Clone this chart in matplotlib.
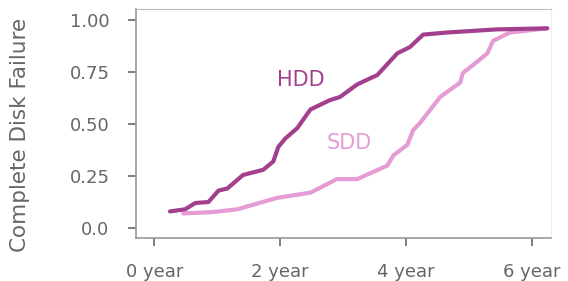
import matplotlib.pyplot as plt

# valores
hdd_t = [0.25, 0.49, 0.65, 0.86, 1.02, 1.16, 1.41, 1.73, 1.89, 1.97, 2.08, 2.27, 2.48,
         2.79, 2.95, 3.22, 3.43, 3.54, 3.86, 4.06, 4.27, 4.65, 5.44, 6.24]
hdd_v = [0.08, 0.09, 0.12, 0.125, 0.18, 0.19, 0.255, 0.28, 0.32, 0.39, 0.43, 0.48, 0.57,
         0.615, 0.63, 0.69, 0.72, 0.735, 0.84, 0.87, 0.93, 0.94, 0.955, 0.96]

sdd_t = [0.46, 0.94, 1.32, 1.95, 2.48, 2.9, 3.22, 3.7, 3.8, 4.02, 4.11, 4.22, 4.54,
         4.86, 4.9, 5.17, 5.29, 5.38, 5.65, 6.24]
sdd_v = [0.07, 0.077, 0.09, 0.145, 0.17, 0.235, 0.235, 0.30, 0.35, 0.40, 0.47, 0.505, 0.63,
         0.70, 0.745, 0.81, 0.84, 0.90, 0.94, 0.96]

xticks = [0, 2, 4, 6]
xlabels = ['0 year', '2 year', '4 year', '6 year']
yticks = [0.0, 0.25, 0.5, 0.75, 1.0]
ylabels = ['0.0', '0.25', '0.50', '0.75', '1.00']

cor_hdd = '#a3408e'
cor_sdd = '#e59bd3'
cinza = '#666666'

plt.rcParams['font.family'] = ['DejaVu Sans']

fig = plt.figure(figsize=(5.68, 2.81), dpi=100)
ax = fig.add_axes([136 / 568, 1 - 238 / 281, (551 - 136) / 568, (238 - 9) / 281])

ax.plot(sdd_t, sdd_v, color=cor_sdd, lw=3.0, solid_capstyle='round', solid_joinstyle='round')
ax.plot(hdd_t, hdd_v, color=cor_hdd, lw=3.0, solid_capstyle='round', solid_joinstyle='round')

ax.text(2.32, 0.71, 'HDD', color=cor_hdd, fontsize=15, ha='center', va='center')
ax.text(3.1, 0.41, 'SDD', color=cor_sdd, fontsize=15, ha='center', va='center')

ax.set_xlim(-0.29, 6.3)
ax.set_ylim(-0.048, 1.053)
ax.set_xticks(xticks)
ax.set_xticklabels(xlabels)
ax.set_yticks(yticks)
ax.set_yticklabels(ylabels)
ax.tick_params(colors=cinza, labelsize=13, length=6, width=1.2)
ax.tick_params(axis='y', pad=13)
ax.tick_params(axis='x', pad=12)
ax.set_ylabel('Complete Disk Failure', color=cinza, fontsize=15.5, va='center')
ax.yaxis.set_label_coords(-0.28, 0.45)

for lado in ['left', 'bottom']:
    ax.spines[lado].set_color('#9a9a9a')
    ax.spines[lado].set_linewidth(1.2)
ax.spines['top'].set_color('#bbbbbb')
ax.spines['right'].set_color('#eeeeee')

plt.savefig('out.png', dpi=100)
